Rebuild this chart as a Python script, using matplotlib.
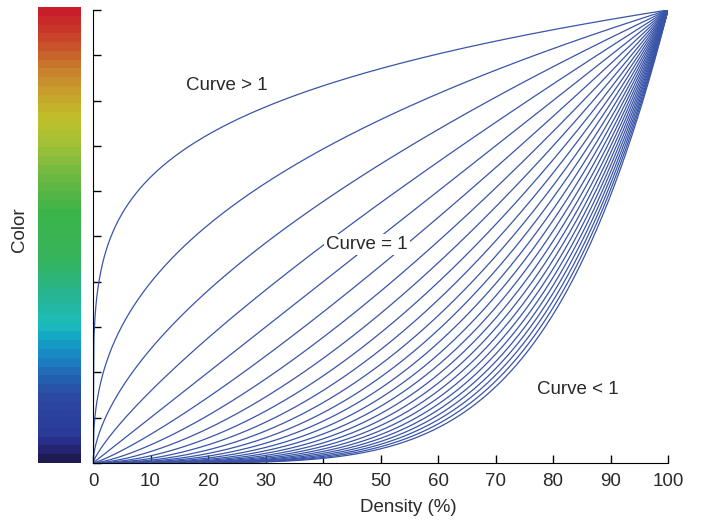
import numpy as np
import matplotlib
matplotlib.use("Agg")
import matplotlib.pyplot as plt
from matplotlib.colors import LinearSegmentedColormap

plt.rcParams['font.family'] = ['Liberation Sans', 'DejaVu Sans']
plt.rcParams['text.color'] = '#2a2a2a'
plt.rcParams['xtick.labelcolor'] = '#2a2a2a'

# curve exponents (output = input ** exponent)
exponents = [0.2, 0.4, 0.6, 0.8, 1.0, 1.2, 1.4, 1.6, 1.8, 2.0, 2.2, 2.4, 2.6,
             2.8, 3.0, 3.2, 3.4, 3.6, 3.8, 4.0, 4.2, 4.4, 4.6, 4.8, 5.0]
x_ticks = [0, 10, 20, 30, 40, 50, 60, 70, 80, 90, 100]
y_ticks = [0, 10, 20, 30, 40, 50, 60, 70, 80, 90, 100]
color_stops = [(0.00, '#1f1a52'), (0.03, '#262a84'), (0.06, '#2b3c98'),
               (0.14, '#2d4aa2'), (0.18, '#2460b0'), (0.22, '#1c80c2'),
               (0.27, '#12a6c4'), (0.30, '#1cbcbe'), (0.37, '#28b48e'),
               (0.45, '#36b45c'), (0.55, '#3cb44a'), (0.63, '#6cb842'),
               (0.70, '#a0c038'), (0.76, '#c0c02a'), (0.82, '#c8a02c'),
               (0.88, '#c8782c'), (0.94, '#c8442a'), (1.00, '#c81e2a')]
n_bands = 52
labels = ["Curve > 1", "Curve = 1", "Curve < 1"]
label_pos = [(23.3, 83.4), (47.7, 48.3), (84.3, 16.3)]

fig = plt.figure(figsize=(7.02, 5.2), dpi=100)
ax = fig.add_axes([0.1325, 0.1096, 0.8191, 0.8712])
cax = fig.add_axes([0.0546, 0.1096, 0.0604, 0.8764])

xs = np.linspace(0, 100, 600)
for p in exponents:
    ax.plot(xs, 100 * (xs / 100) ** p, color='#3a55a8', lw=0.9)

ax.set_xlim(0, 100)
ax.set_ylim(0, 100)
ax.set_xticks(x_ticks)
ax.set_yticks(y_ticks)
ax.set_yticklabels([])
ax.tick_params(direction='in', length=6, width=1, labelsize=13.5, pad=7)
ax.spines['top'].set_visible(False)
ax.spines['right'].set_visible(False)
fig.text(0.582, 0.0237, "Density (%)", fontsize=13.5, ha='center', va='center')

for (t, (tx, ty)) in zip(labels, label_pos):
    ax.text(tx, ty, t, fontsize=13.5, ha='center', va='center',
            bbox=dict(facecolor='white', edgecolor='none', pad=1.5), zorder=5)

cmap = LinearSegmentedColormap.from_list('cb', color_stops)
bands = cmap(np.linspace(0, 1, n_bands))[:, :3].reshape(n_bands, 1, 3)
cax.imshow(bands, aspect='auto', origin='lower', extent=[0, 1, 0, 1],
           interpolation='nearest')
cax.set_xticks([])
cax.set_yticks([])
for s in cax.spines.values():
    s.set_visible(False)
fig.text(0.028, 0.558, "Color", rotation=90, fontsize=13.5, ha='center', va='center')

fig.savefig("out.png", dpi=100)
